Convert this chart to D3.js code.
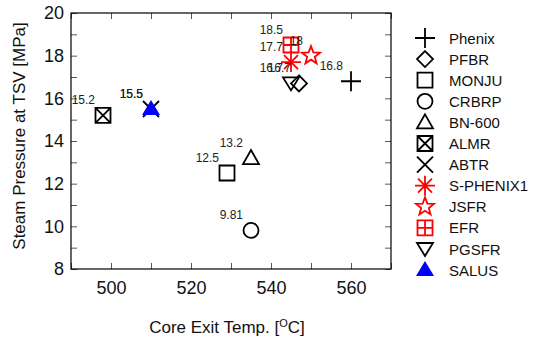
<!DOCTYPE html>
<html>
<head>
<meta charset="utf-8">
<script src="https://cdn.jsdelivr.net/npm/d3@7"></script>
<style>
  body { margin: 0; background: #fff; }
  svg { font-family: Arial, "Liberation Sans", sans-serif; }
  .tick line { stroke: #555; }
  .tick text { fill: #111; font-size: 18px; }
</style>
</head>
<body>
<svg id="chart" width="552" height="340"></svg>
<script>
// reactor data
var reactors = ['Phenix', 'PFBR', 'MONJU', 'CRBRP', 'BN-600', 'ALMR', 'ABTR',
                'S-PHENIX1', 'JSFR', 'EFR', 'PGSFR', 'SALUS'];
var exitTemp = [560, 547, 529, 535, 535, 498, 510, 545, 550, 545, 545, 510];
var steamPressure = [16.8, 16.7, 12.5, 9.81, 13.2, 15.2, 15.5, 17.7, 18, 18.5, 16.7, 15.5];
var pointLabels = ['16.8', '16.7', '12.5', '9.81', '13.2', '15.2', '15.5', '17.7', '18', '18.5', '16.7', '15.5'];

var xTicks = [500, 520, 540, 560];
var yTicks = [8, 10, 12, 14, 16, 18, 20];

// marker style per reactor
var shapes = ['plus', 'diamond', 'square', 'circle', 'triUp', 'boxX', 'cross',
              'asterisk', 'star', 'boxPlus', 'triDown', 'triFill'];
var colors = ['#000', '#000', '#000', '#000', '#000', '#000', '#000',
              '#f00', '#f00', '#f00', '#000', '#00f'];

var margin = {top: 13, right: 161, bottom: 71, left: 71};
var width = 552 - margin.left - margin.right,
    height = 340 - margin.top - margin.bottom;

var svg = d3.select('#chart');
var g = svg.append('g').attr('transform', 'translate(' + margin.left + ',' + margin.top + ')');

var x = d3.scaleLinear().domain([490, 570]).range([0, width]);
var y = d3.scaleLinear().domain([8, 20]).range([height, 0]);

var minorX = d3.range(490, 571, 10);
var minorY = d3.range(8, 20.5, 1);

// ticks, all pointing inwards
g.append('g').attr('transform', 'translate(0,' + height + ')')
  .call(d3.axisBottom(x).tickValues(minorX).tickSize(-6).tickFormat(''));
g.append('g').attr('transform', 'translate(0,' + height + ')')
  .call(d3.axisBottom(x).tickValues(xTicks).tickSize(0).tickPadding(12).tickFormat(d3.format('d')));
g.append('g')
  .call(d3.axisTop(x).tickValues(minorX).tickSize(-6).tickFormat(''));
g.append('g')
  .call(d3.axisLeft(y).tickValues(minorY).tickSize(-6).tickFormat(''));
g.append('g')
  .call(d3.axisLeft(y).tickValues(yTicks).tickSize(0).tickPadding(7).tickFormat(d3.format('d')));
g.append('g').attr('transform', 'translate(' + width + ',0)')
  .call(d3.axisRight(y).tickValues(minorY).tickSize(-6).tickFormat(''));
g.selectAll('.domain').remove();

g.append('rect')
  .attr('width', width).attr('height', height)
  .attr('fill', 'none').attr('stroke', '#000').attr('stroke-width', 1.2);

// marker paths
function starPath(ro, ri) {
  var p = [];
  for (var i = 0; i < 10; i++) {
    var r = i % 2 ? ri : ro, a = Math.PI / 5 * i - Math.PI / 2;
    p.push([r * Math.cos(a), r * Math.sin(a)]);
  }
  return 'M' + p.join('L') + 'Z';
}
var marker = {
  plus: 'M-10,0H10M0,-10V10',
  diamond: 'M0,-8L8,0L0,8L-8,0Z',
  square: 'M-7.5,-7.5H7.5V7.5H-7.5Z',
  circle: 'M7.5,0A7.5,7.5 0 1,1 -7.5,0A7.5,7.5 0 1,1 7.5,0Z',
  triUp: 'M0,-8L8,6L-8,6Z',
  boxX: 'M-7.5,-7.5H7.5V7.5H-7.5ZM-7.5,-7.5L7.5,7.5M7.5,-7.5L-7.5,7.5',
  cross: 'M-8,-8L8,8M8,-8L-8,8',
  asterisk: 'M-10,0H10M0,-10V10M-7,-7L7,7M7,-7L-7,7',
  star: starPath(9.5, 4),
  boxPlus: 'M-7.5,-7.5H7.5V7.5H-7.5ZM-7.5,0H7.5M0,-7.5V7.5',
  triDown: 'M0,7L8,-6L-8,-6Z',
  triFill: 'M0,-9L9,6L-9,6Z'
};

function drawMarker(sel, i) {
  var filled = shapes[i] === 'triFill';
  sel.append('path')
    .attr('d', marker[shapes[i]])
    .attr('fill', filled ? colors[i] : 'none')
    .attr('stroke', filled ? 'none' : colors[i])
    .attr('stroke-width', 1.8);
}

var pts = g.selectAll('.pt').data(reactors).enter().append('g')
  .attr('class', 'pt')
  .attr('transform', function(d, i) { return 'translate(' + x(exitTemp[i]) + ',' + y(steamPressure[i]) + ')'; });
pts.each(function(d, i) { drawMarker(d3.select(this), i); });

g.selectAll('.lbl').data(reactors).enter().append('text')
  .attr('class', 'lbl')
  .attr('x', function(d, i) { return x(exitTemp[i]) - 8; })
  .attr('y', function(d, i) { return y(steamPressure[i]) - 11; })
  .attr('text-anchor', 'end')
  .attr('font-size', 12)
  .attr('fill', '#222')
  .text(function(d, i) { return pointLabels[i]; });

// axis titles
svg.append('text')
  .attr('x', margin.left + width / 2 - 4).attr('y', 333)
  .attr('text-anchor', 'middle').attr('font-size', 17).attr('fill', '#111')
  .html('Core Exit Temp. [<tspan dy="-6" font-size="11">O</tspan><tspan dy="6">C]</tspan>');
svg.append('text')
  .attr('transform', 'translate(25,' + 136 + ') rotate(-90)')
  .attr('text-anchor', 'middle').attr('font-size', 17).attr('fill', '#111')
  .text('Steam Pressure at TSV [MPa]');

// legend
var legend = svg.append('g').attr('transform', 'translate(425,38)');
var rows = legend.selectAll('.row').data(reactors).enter().append('g')
  .attr('class', 'row')
  .attr('transform', function(d, i) { return 'translate(0,' + i * 21.1 + ')'; });
rows.each(function(d, i) { drawMarker(d3.select(this), i); });
rows.append('text')
  .attr('x', 24).attr('y', 5.5)
  .attr('font-size', 15).attr('fill', '#111')
  .text(function(d) { return d; });
</script>
</body>
</html>
